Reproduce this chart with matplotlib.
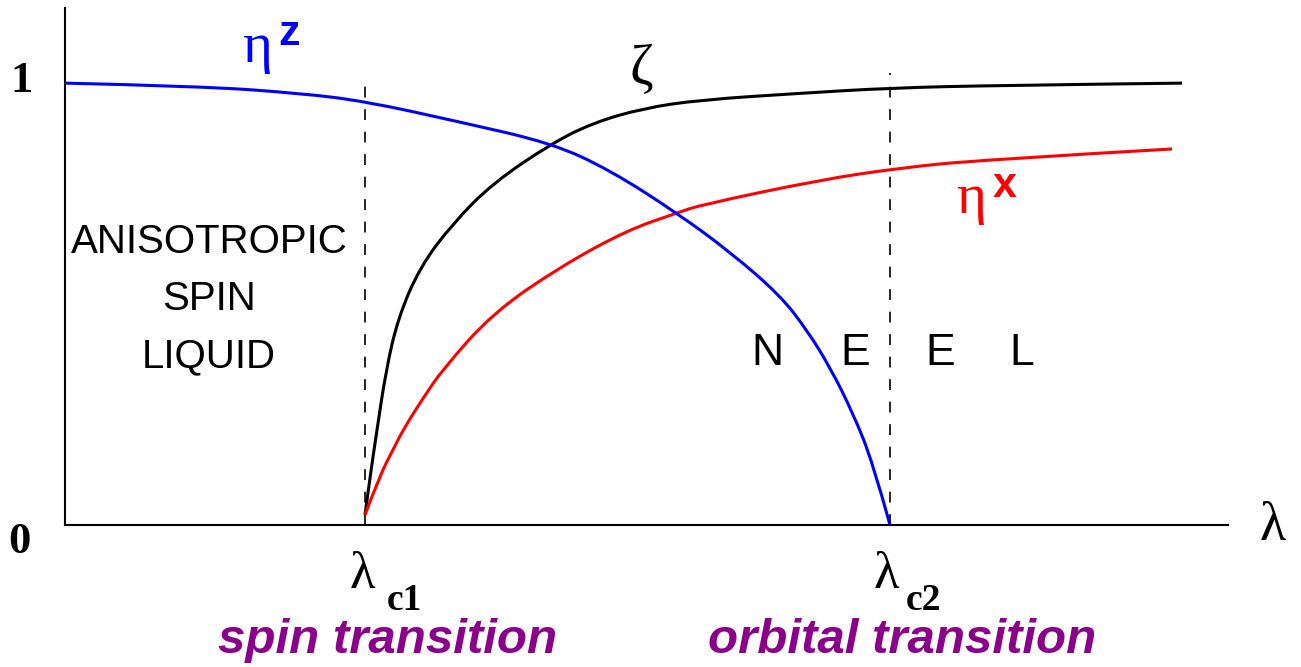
import matplotlib
matplotlib.use("Agg")
import matplotlib.pyplot as plt
from matplotlib.path import Path
from matplotlib.patches import PathPatch

# order parameters across the coupling lambda (arbitrary units)
lam_c1 = 3.0
lam_c2 = 8.25

zeta_x = [3.00, 3.06, 3.12, 3.21, 3.33, 3.55, 3.88, 4.28, 4.87, 5.28, 5.78, 6.35, 7.35, 8.25, 9.35, 11.17]
zeta_y = [0.023, 0.124, 0.215, 0.350, 0.468, 0.584, 0.683, 0.774, 0.864, 0.910, 0.943, 0.962, 0.977, 0.989, 0.995, 1.000]

etax_x = [3.00, 3.15, 3.28, 3.38, 3.58, 3.78, 4.28, 4.95, 5.62, 6.12, 6.35, 7.55, 8.35, 9.15, 11.07]
etax_y = [0.023, 0.113, 0.170, 0.215, 0.287, 0.353, 0.480, 0.584, 0.667, 0.706, 0.724, 0.781, 0.808, 0.826, 0.851]

etaz_x = [0.00, 1.35, 2.35, 3.00, 3.95, 4.87, 5.45, 6.12, 6.65, 7.15, 7.42, 7.65, 7.88, 8.08, 8.25]
etaz_y = [1.000, 0.993, 0.977, 0.959, 0.912, 0.864, 0.803, 0.706, 0.618, 0.520, 0.441, 0.357, 0.253, 0.140, 0.000]

W, H = 1301, 667
SERIF = ['Liberation Serif', 'DejaVu Serif']
SANS = ['Liberation Sans', 'DejaVu Sans']
PURPLE = '#8b008b'


def smooth(xs, ys):
    # quadratic bezier chain using the samples as control polygon
    pts = list(zip(xs, ys))
    verts, codes = [pts[0]], [Path.MOVETO]
    for i in range(1, len(pts) - 1):
        if i == len(pts) - 2:
            end = pts[-1]
        else:
            end = ((pts[i][0] + pts[i + 1][0]) / 2, (pts[i][1] + pts[i + 1][1]) / 2)
        verts += [pts[i], end]
        codes += [Path.CURVE3, Path.CURVE3]
    return Path(verts, codes)


fig = plt.figure(figsize=(W / 100, H / 100), dpi=100)
ax = fig.add_axes([65 / W, 1 - 525 / H, (1228 - 65) / W, (525 - 8) / H])
ax.set_xlim(0, 11.63)
ax.set_ylim(0, 1.17)
for s in ['top', 'right']:
    ax.spines[s].set_visible(False)
for s in ['left', 'bottom']:
    ax.spines[s].set_linewidth(1.5)
ax.set_xticks([])
ax.set_yticks([])

# transition markers
for xc, top in [(lam_c1, 1.018), (lam_c2, 1.023)]:
    ax.plot([xc, xc], [0, top], color='black', lw=1.2, dashes=(6.5, 7), zorder=1)

for xs, ys, col, z in [(zeta_x, zeta_y, 'black', 3), (etax_x, etax_y, 'red', 3), (etaz_x, etaz_y, 'blue', 4)]:
    ax.add_patch(PathPatch(smooth(xs, ys), fill=False, edgecolor=col, lw=2.2,
                           capstyle='butt', zorder=z))


def ftext(x, y, s, **kw):
    # place text by pixel position on the canvas
    fig.text(x / W, 1 - y / H, s, **kw)


# axis values
ftext(22, 92, '1', family=SERIF, weight='bold', fontsize=32, ha='center', va='baseline')
ftext(19, 553, '0', family=SERIF, weight='bold', fontsize=32, ha='center', va='baseline')
ftext(1273, 540, 'λ', family=SERIF, fontsize=39, ha='center', va='baseline')

# critical couplings
ftext(362, 588, 'λ', family=SERIF, fontsize=38, ha='center', va='baseline')
ftext(404, 610, 'c1', family=SERIF, weight='bold', fontsize=27, ha='center', va='baseline')
ftext(886, 588, 'λ', family=SERIF, fontsize=38, ha='center', va='baseline')
ftext(924, 610, 'c2', family=SERIF, weight='bold', fontsize=27, ha='center', va='baseline')

ftext(388, 653, 'spin transition', family=SANS, weight='bold', style='italic',
      fontsize=35.5, color=PURPLE, ha='center', va='baseline')
ftext(902, 653, 'orbital transition', family=SANS, weight='bold', style='italic',
      fontsize=35.5, color=PURPLE, ha='center', va='baseline')

# curve labels
ftext(257, 62, 'η', family=SERIF, fontsize=41, color='blue', ha='center', va='baseline')
ftext(289, 45, 'z', family=SANS, weight='bold', fontsize=31, color='blue', ha='center', va='baseline')
ftext(641, 84, 'ζ', family=SERIF, fontsize=41, color='black', ha='center', va='baseline')
ftext(971, 213, 'η', family=SERIF, fontsize=41, color='red', ha='center', va='baseline')
ftext(1005, 197, 'x', family=SANS, weight='bold', fontsize=31, color='red', ha='center', va='baseline')

# phase names
for txt, yb in [('ANISOTROPIC', 253), ('SPIN', 310), ('LIQUID', 367)]:
    ftext(209, yb, txt, family=SANS, fontsize=29, ha='center', va='baseline')
for ch, xc in [('N', 767), ('E', 855), ('E', 940), ('L', 1022)]:
    ftext(xc, 365, ch, family=SANS, fontsize=32, ha='center', va='baseline')

fig.savefig('out.png', dpi=100)
